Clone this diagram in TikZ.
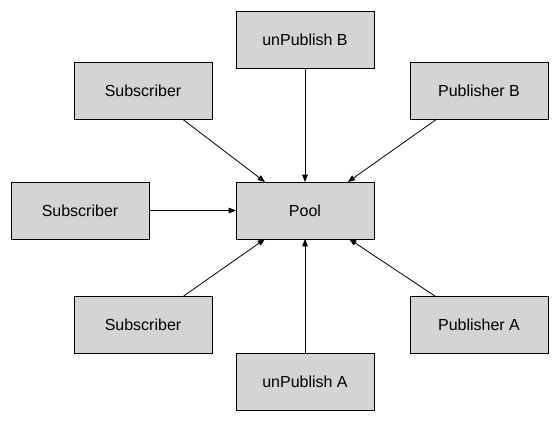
\documentclass[tikz,border=0pt]{standalone}
\usepackage{fontspec}
\setmainfont{Liberation Sans}
\usetikzlibrary{arrows.meta,calc}
\definecolor{boxgray}{HTML}{D4D4D4}
\begin{document}
\begin{tikzpicture}[x=0.75pt,y=-0.75pt,
  box/.style={draw=black,fill=boxgray,line width=0.7pt,minimum width=103.5pt,minimum height=42.75pt,inner sep=0pt,outer sep=0pt,font=\fontsize{12}{14}\selectfont},
  conn/.style={line width=0.6pt,-{Triangle[length=5.5pt,width=4.2pt]}}]
\useasboundingbox[fill=white] (0,0) rectangle (559,421);
\node[box] (uB) at (305,40) {unPublish B};
\node[box] (s1) at (143,90.5) {Subscriber};
\node[box] (pB) at (479,90.5) {Publisher B};
\node[box] (s2) at (80,210.5) {Subscriber};
\node[box] (pool) at (305,210.5) {Pool};
\node[box] (s3) at (143,324.5) {Subscriber};
\node[box] (pA) at (479,324.5) {Publisher A};
\node[box] (uA) at (305,381.5) {unPublish A};
\draw[conn] (uB) -- (pool);
\draw[conn] (uA) -- (pool);
\draw[conn] (s2) -- (pool);
\draw[conn] ($(s1.south west)!0.785!(s1.south east)$) -- ($(pool.north west)!0.21!(pool.north east)$);
\draw[conn] ($(pB.south west)!0.195!(pB.south east)$) -- ($(pool.north west)!0.81!(pool.north east)$);
\draw[conn] ($(s3.north west)!0.795!(s3.north east)$) -- ($(pool.south west)!0.21!(pool.south east)$);
\draw[conn] ($(pA.north west)!0.18!(pA.north east)$) -- ($(pool.south west)!0.82!(pool.south east)$);
\end{tikzpicture}
\end{document}
